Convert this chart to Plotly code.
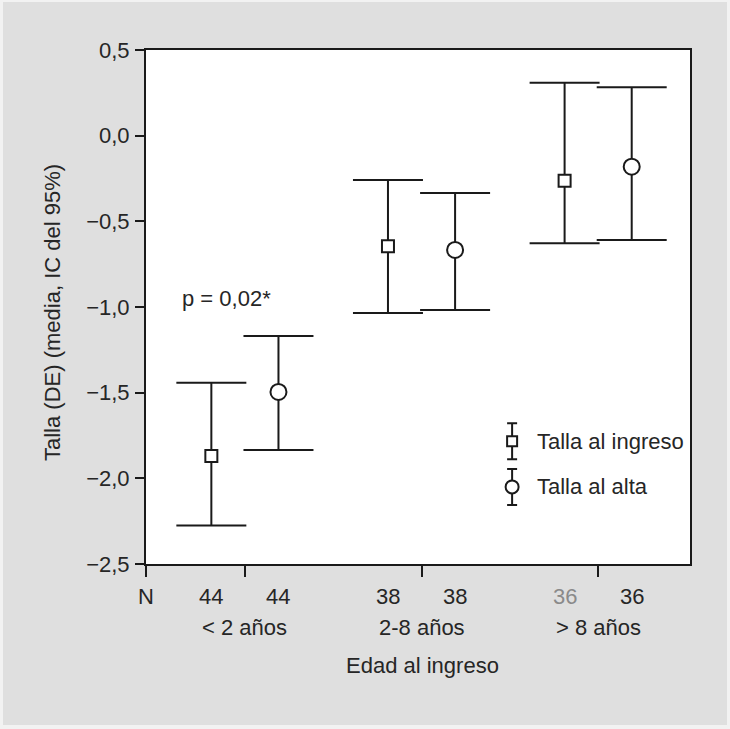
import plotly.graph_objects as go

# ---- data ----
groups = ["< 2 años", "2-8 años", "> 8 años"]
n_ingreso = [44, 38, 36]
n_alta = [44, 38, 36]
ingreso_mean = [-1.87, -0.645, -0.263]
ingreso_upper = [-1.442, -0.259, 0.309]
ingreso_lower = [-2.276, -1.035, -0.628]
alta_mean = [-1.496, -0.667, -0.181]
alta_upper = [-1.169, -0.334, 0.282]
alta_lower = [-1.834, -1.018, -0.609]
y_tickvals = [0.5, 0.0, -0.5, -1.0, -1.5, -2.0, -2.5]
y_ticktext = ["0,5", "0,0", "\u22120,5", "\u22121,0", "\u22121,5", "\u22122,0", "\u22122,5"]
series_names = ["Talla al ingreso", "Talla al alta"]

FONT = "Liberation Sans, Arial, sans-serif"
TXT = "#262626"
INK = "#1a1a1a"
FS = 22

gpos = list(range(1, len(groups) + 1))
off = 0.19
x_ing = [g - off for g in gpos]
x_alt = [g + off for g in gpos]
XMIN, XMAX = 0.44, 3.52

fig = go.Figure()

def add_series(xs, mean, up, lo, symbol, size):
    fig.add_trace(go.Scatter(
        x=xs, y=mean, mode="markers",
        marker=dict(symbol=symbol, size=size, color="white",
                    line=dict(color=INK, width=2)),
        error_y=dict(type="data", symmetric=False,
                     array=[u - m for u, m in zip(up, mean)],
                     arrayminus=[m - l for m, l in zip(mean, lo)],
                     width=35, thickness=2, color=INK),
        showlegend=False, hoverinfo="skip", cliponaxis=False))

add_series(x_ing, ingreso_mean, ingreso_upper, ingreso_lower, "square", 12)
add_series(x_alt, alta_mean, alta_upper, alta_lower, "circle", 16)

# ---- manual legend on an overlay axis (fractions of plot area) ----
leg_x = 0.673
leg_rows = [0.239, 0.150]
for name, yy, sym, sz in zip(series_names, leg_rows, ["square", "circle"], [10, 13]):
    fig.add_trace(go.Scatter(
        x=[leg_x], y=[yy], xaxis="x2", yaxis="y2", mode="markers",
        marker=dict(symbol=sym, size=sz, color="white", line=dict(color=INK, width=2)),
        error_y=dict(type="constant", value=0.035, width=5, thickness=2, color=INK),
        showlegend=False, hoverinfo="skip", cliponaxis=False))
    fig.add_annotation(x=0.715, y=yy, xref="x2", yref="y2", text=name,
                       showarrow=False, xanchor="left", yanchor="middle",
                       font=dict(family=FONT, size=FS, color=TXT))

# ---- bottom labels ----
def xpaper(v):
    return (v - XMIN) / (XMAX - XMIN)

y_n = -0.0642
y_cat = -0.1226
fig.add_annotation(x=0, y=y_n, xref="paper", yref="paper", text="N", showarrow=False,
                   xanchor="center", yanchor="middle", font=dict(family=FONT, size=FS, color=TXT))
for i, g in enumerate(groups):
    fig.add_annotation(x=xpaper(x_ing[i]), y=y_n, xref="paper", yref="paper",
                       text=str(n_ingreso[i]), showarrow=False, xanchor="center", yanchor="middle",
                       font=dict(family=FONT, size=FS, color="#8a8a8a" if i == 2 else TXT))
    fig.add_annotation(x=xpaper(x_alt[i]), y=y_n, xref="paper", yref="paper",
                       text=str(n_alta[i]), showarrow=False, xanchor="center", yanchor="middle",
                       font=dict(family=FONT, size=FS, color=TXT))
    fig.add_annotation(x=xpaper(gpos[i]), y=y_cat, xref="paper", yref="paper",
                       text=g.replace("<", "&lt;").replace(">", "&gt;"), showarrow=False,
                       xanchor="center", yanchor="middle",
                       font=dict(family=FONT, size=FS, color=TXT))

fig.add_annotation(x=0.509, y=-0.1965, xref="paper", yref="paper", text="Edad al ingreso",
                   showarrow=False, xanchor="center", yanchor="middle",
                   font=dict(family=FONT, size=FS, color=TXT))
fig.add_annotation(x=-0.173, y=0.49, xref="paper", yref="paper",
                   text="Talla (DE) (media, IC del 95%)", textangle=-90,
                   showarrow=False, xanchor="center", yanchor="middle",
                   font=dict(family=FONT, size=FS, color=TXT))
fig.add_annotation(x=0.634, y=-0.953, xref="x", yref="y", text="p = 0,02*",
                   showarrow=False, xanchor="left", yanchor="middle",
                   font=dict(family=FONT, size=FS, color=TXT))

# gray panel with thin light border, white plot area
fig.add_shape(type="rect", xref="paper", yref="paper", layer="below",
              x0=(3 - 146) / 544, x1=(727 - 146) / 544,
              y0=(564 - 725) / 514, y1=(564 - 2) / 514,
              fillcolor="#dfdfdf", line=dict(width=0))
fig.add_shape(type="rect", xref="paper", yref="paper", layer="below",
              x0=0, x1=1, y0=0, y1=1, fillcolor="white", line=dict(width=0))

fig.update_layout(
    width=730, height=729,
    margin=dict(l=146, r=40, t=50, b=165, autoexpand=False),
    paper_bgcolor="#f2f2f2", plot_bgcolor="white",
    font=dict(family=FONT, size=FS, color=TXT),
    showlegend=False,
    xaxis=dict(range=[XMIN, XMAX], showgrid=False, zeroline=False,
               showline=True, mirror=True, linecolor=INK, linewidth=2,
               ticks="outside", ticklen=11, tickwidth=2, tickcolor=INK,
               tickvals=[XMIN] + gpos, showticklabels=False, fixedrange=True),
    yaxis=dict(range=[-2.5, 0.5], showgrid=False, zeroline=False,
               showline=True, mirror=True, linecolor=INK, linewidth=2,
               ticks="outside", ticklen=9, tickwidth=2, tickcolor=INK,
               tickvals=y_tickvals, ticktext=y_ticktext,
               ticklabelstandoff=1,
               tickfont=dict(family=FONT, size=FS, color=TXT), fixedrange=True),
    xaxis2=dict(overlaying="x", range=[0, 1], visible=False, fixedrange=True),
    yaxis2=dict(overlaying="y", range=[0, 1], visible=False, fixedrange=True),
)

fig.write_html("out.html", config={"displayModeBar": False},
               post_script="document.body.style.margin='0';document.body.style.overflow='hidden';")
